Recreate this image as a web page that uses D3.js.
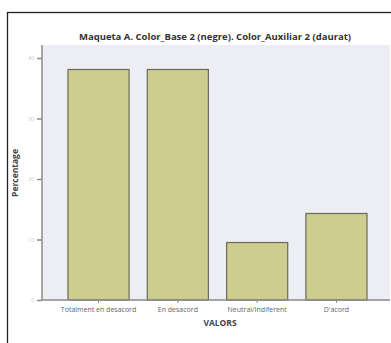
<!DOCTYPE html>
<html><head><meta charset="utf-8">
<script src="https://cdn.jsdelivr.net/npm/d3@7"></script>
<style>body{margin:0;background:#fff;}svg{display:block;}</style>
</head><body>
<svg id="c" width="391" height="343"></svg>
<script>
const categories = ["Totalment en desacord", "En desacord", "Neutral/Indiferent", "D'acord"];
const values = [38.1, 38.1, 9.5, 14.3];
const yTicks = [0, 10, 20, 30, 40];
const title = "Maqueta A. Color_Base 2 (negre). Color_Auxiliar 2 (daurat)";

const svg = d3.select("#c");
const font = "'Open Sans', 'DejaVu Sans', sans-serif";

// outer frame
svg.append("rect").attr("x", 7.5).attr("y", 12.5).attr("width", 400).attr("height", 400)
  .attr("fill", "#fff").attr("stroke", "#222").attr("stroke-width", 1.3);

const plot = {l: 42, t: 45, r: 390, b: 300};
svg.append("rect").attr("x", plot.l).attr("y", plot.t).attr("width", plot.r - plot.l).attr("height", plot.b - plot.t)
  .attr("fill", "#eceef3");

const x = d3.scaleBand().domain(categories).range([68, 367]).paddingInner(0.23);
const y = d3.scaleLinear().domain([0, 40]).range([300, 58]);

svg.selectAll(".bar").data(values).enter().append("rect")
  .attr("x", (d, i) => x(categories[i]))
  .attr("y", d => y(d))
  .attr("width", x.bandwidth())
  .attr("height", d => y(0) - y(d))
  .attr("fill", "#cdcd90")
  .attr("stroke", "#6b6a55").attr("stroke-width", 1.2);

// axes
const yAxis = svg.append("g").attr("transform", `translate(${plot.l},0)`)
  .call(d3.axisLeft(y).tickValues(yTicks).tickSize(5).tickPadding(3));
yAxis.select(".domain").attr("d", `M0,${plot.t}V${plot.b}`).attr("stroke", "#8a8a8a").attr("stroke-width", 1.5);
yAxis.selectAll(".tick line").attr("stroke", "#8a8a8a").attr("stroke-width", 1.5);
yAxis.selectAll(".tick text").attr("fill", "#c8c8c8").style("font-family", font).style("font-size", "5px");

const xAxis = svg.append("g").attr("transform", `translate(0,${plot.b})`)
  .call(d3.axisBottom(x).tickSize(3).tickPadding(4));
xAxis.select(".domain").attr("d", `M${plot.l},0H${plot.r}`).attr("stroke", "#8a8a8a").attr("stroke-width", 1.5);
xAxis.selectAll(".tick line").attr("stroke", "#8a8a8a");
xAxis.selectAll(".tick text").attr("fill", "#666").style("font-family", font).style("font-size", "7px");

svg.append("text").attr("x", 215).attr("y", 40).attr("text-anchor", "middle")
  .style("font-family", font).style("font-size", "9.5px").style("font-weight", "bold").attr("fill", "#333")
  .text(title);
svg.append("text").attr("transform", "translate(18,173) rotate(-90)").attr("text-anchor", "middle")
  .style("font-family", font).style("font-size", "8.5px").style("font-weight", "bold").attr("fill", "#444")
  .text("Percentage");
svg.append("text").attr("x", 220).attr("y", 326).attr("text-anchor", "middle")
  .style("font-family", font).style("font-size", "8.5px").style("font-weight", "bold").attr("fill", "#444")
  .text("VALORS");
</script>
</body></html>
